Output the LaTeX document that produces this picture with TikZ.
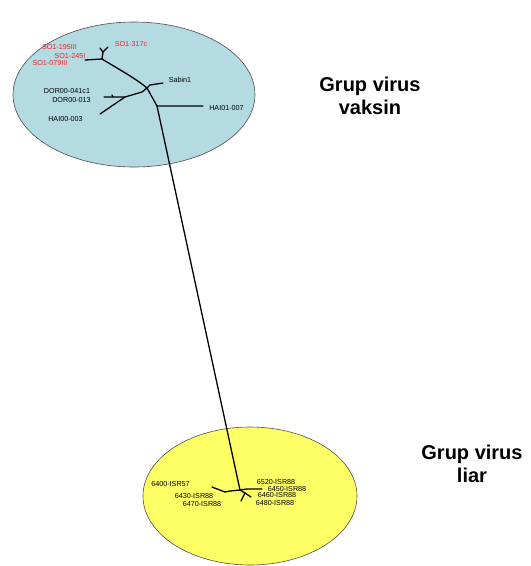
\documentclass[tikz,border=0pt]{standalone}
\usepackage{fontspec}
\setmainfont{Liberation Sans}
\definecolor{vblue}{RGB}{180,219,226}
\definecolor{vyellow}{RGB}{255,255,102}
\definecolor{vred}{RGB}{232,40,40}
\begin{document}
\begin{tikzpicture}[x=1pt,y=-1pt,
  lab/.style={inner sep=0pt,font=\fontsize{7.2}{8}\selectfont},
  redlab/.style={lab,text=vred},
  title/.style={inner sep=0pt,align=center,font=\fontsize{20}{23}\selectfont\bfseries},
  branch/.style={line width=1.3pt,line cap=round,line join=round},
  group/.style={draw=black!70,line width=0.6pt}]
\useasboundingbox (0,0) rectangle (531,566);
% groups
\path[group,fill=vblue] (134,94.5) ellipse [x radius=121, y radius=72.5];
\path[group,fill=vyellow] (250,496) ellipse [x radius=107, y radius=69];
% titles
\node[title] (tv) at (370,96) {Grup virus\\vaksin};
\node[title] (tl) at (472,464) {Grup virus\\liar};
% tree coordinates (vaccine group)
\coordinate (A) at (102,59);
\coordinate (A1) at (103,52);
\coordinate (A2) at (100,48);
\coordinate (A3) at (108,47);
\coordinate (A4) at (85,60);
\coordinate (C) at (147,88);
\coordinate (S1) at (150,85);
\coordinate (S2) at (163,83);
\coordinate (L1) at (142,92);
\coordinate (L2) at (125,97);
\coordinate (L3) at (113,97);
\coordinate (L4) at (104,97);
\coordinate (L5) at (112,95);
\coordinate (L6) at (100,114);
\coordinate (D) at (157,106);
\coordinate (H) at (203,106);
% tree coordinates (wild group)
\coordinate (W) at (240,490);
\coordinate (W1) at (230,491);
\coordinate (W2) at (212,487);
\coordinate (W3) at (247,489);
\coordinate (W4) at (262,489);
\coordinate (W5) at (245,493);
\coordinate (W6) at (241,501);
\coordinate (W7) at (251,497);
\coordinate (W8) at (225,492);
% branches
\draw[branch] (A4) -- (A) -- (A1) -- (A2);
\draw[branch] (A1) -- (A3);
\draw[branch] (A) .. controls (120,70) and (135,78) .. (C);
\draw[branch] (C) -- (S1) -- (S2);
\draw[branch] (C) -- (L1) -- (L2) -- (L3) -- (L4);
\draw[branch] (L3) -- (L5);
\draw[branch] (L2) -- (L6);
\draw[branch] (C) -- (D) -- (H);
\draw[branch] (D) -- (W);
\draw[branch] (W2) -- (W8) -- (W1) -- (W) -- (W3) -- (W4);
\draw[branch] (W) -- (W5) -- (W6);
\draw[branch] (W5) -- (W7);
% labels, vaccine group
\node[redlab] (n1) at (59.5,47) {SO1-195III};
\node[redlab] (n2) at (131,44) {SO1-317c};
\node[redlab] (n3) at (70,56) {SO1-245I};
\node[redlab] (n4) at (50,63.5) {SO1-079III};
\node[lab] (n5) at (180,80) {Sabin1};
\node[lab] (n6) at (67,91) {DOR00-041c1};
\node[lab] (n7) at (71.5,100) {DOR00-013};
\node[lab] (n8) at (65.5,119) {HAI00-003};
\node[lab] (n9) at (226.5,108) {HAI01-007};
% labels, wild group
\node[lab] (m1) at (170.5,484) {6400-ISR57};
\node[lab] (m2) at (194,496.5) {6430-ISR88};
\node[lab] (m3) at (202,504) {6470-ISR88};
\node[lab] (m4) at (276,482.5) {6520-ISR88};
\node[lab] (m5) at (287,489) {6450-ISR88};
\node[lab] (m6) at (277,495.5) {6460-ISR88};
\node[lab] (m7) at (275,503) {6480-ISR88};
\end{tikzpicture}
\end{document}
